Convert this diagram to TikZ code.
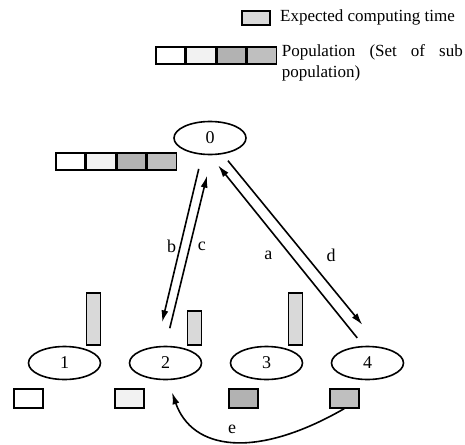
\documentclass[tikz,border=0pt]{standalone}
\usepackage{fontspec}
\setmainfont{Liberation Serif}
\usetikzlibrary{arrows, arrows.meta, positioning, shapes.geometric}

\begin{document}
\begin{tikzpicture} [
						x=1pt, y=-1pt,
						node distance=101pt,
						font=\fontsize{18}{21}\selectfont,
						line width=1.6pt,
						>={Latex[length=12pt,width=7pt]},
						proc/.style={ellipse, draw, minimum width=72pt, minimum height=33pt, inner sep=0pt},
						cell/.style={draw, minimum width=29pt, minimum height=17pt, inner sep=0pt, anchor=north west},
						tbar/.style={draw, fill=gray!30, minimum width=14pt, inner sep=0pt, anchor=south east},
						sub1/.style={fill=white},
						sub2/.style={fill=gray!10},
						sub3/.style={fill=gray!60},
						sub4/.style={fill=gray!50}
					]

\useasboundingbox (0,0) rectangle (465,444);

% legend
\node (lt) [tbar, anchor=north east, minimum width=28pt, minimum height=14pt] at (271,10) {};
\node (ltext) [anchor=west, font=\fontsize{17}{20}\selectfont] at (276,17) {Expected computing time};
\node (lc1) [cell, sub1] at (155,46) {};
\node (lc2) [cell, sub2, right=0pt of lc1.north east, anchor=north west] {};
\node (lc3) [cell, sub3, right=0pt of lc2.north east, anchor=north west] {};
\node (lc4) [cell, sub4, right=0pt of lc3.north east, anchor=north west] {};
\node (lpop) [anchor=north west, text width=181pt, align=justify, inner sep=0pt,
	font=\fontsize{17}{21}\selectfont] at (281,44) {\hyphenpenalty=10000\relax Population (Set of sub population)};

% master
\node (n0) [proc] at (210,138) {0};
\node (c1) [cell, sub1] at (55,152) {};
\node (c2) [cell, sub2, right=0pt of c1.north east, anchor=north west] {};
\node (c3) [cell, sub3, right=0pt of c2.north east, anchor=north west] {};
\node (c4) [cell, sub4, right=0pt of c3.north east, anchor=north west] {};

% slaves
\node (n1) [proc] at (64.5,363) {1};
\node (n2) [proc, right of=n1] {2};
\node (n3) [proc, right of=n2] {3};
\node (n4) [proc, right of=n3] {4};

\node (t1) [tbar, minimum height=52pt] at (n1.east |- n1.north) {};
\node (t2) [tbar, minimum height=34pt] at (n2.east |- n2.north) {};
\node (t3) [tbar, minimum height=52pt] at (n3.east |- n3.north) {};

\node (p1) [cell, sub1, minimum height=19pt] at (13,388) {};
\node (p2) [cell, sub2, minimum height=19pt] at (114,388) {};
\node (p3) [cell, sub3, minimum height=19pt] at (228,388) {};
\node (p4) [cell, sub4, minimum height=19pt] at (329,388) {};

\path[->]
	([xshift=-8]n0.south) edge [shorten <=14pt, shorten >=24pt] node [pos=0.48, left] {b} ([xshift=-9]n2.north)
	(n2.north) edge [shorten <=18pt, shorten >=21pt] node [pos=0.52, right=4pt] {c} ([xshift=2]n0.south)
	([xshift=-4]n4.north) edge [shorten <=10pt, shorten >=13pt] node [pos=0.475, left=14pt] {a} (n0.south)
	([xshift=13.5]n0.south) edge [shorten <=7pt, shorten >=27pt] node [pos=0.525, right=17pt] {d} ([xshift=12]n4.north);

\draw[->] (p4.south) .. controls (255,460) and (192,450) .. ([xshift=6.5pt, yshift=-12pt]n2.south)
	node [pos=0.5, above=4pt] {e};
\end{tikzpicture}
\end{document}
